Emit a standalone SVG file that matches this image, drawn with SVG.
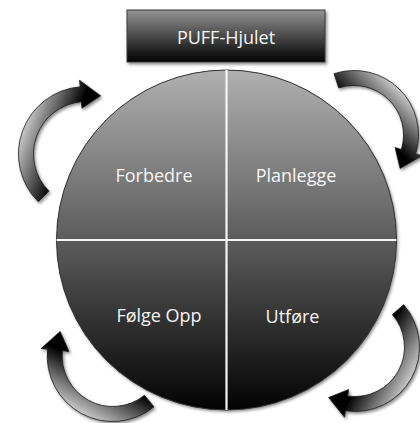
<svg xmlns="http://www.w3.org/2000/svg" width="420" height="423" viewBox="0 0 420 423">
  <style>
    .label { font-family: "Open Sans", "Liberation Sans", sans-serif; font-size: 18px; fill: #f6f6f6; text-anchor: middle; }
    .arrow { stroke: #1a1a1a; stroke-width: 0.8; stroke-linejoin: miter; filter: url(#shadow); }
    .divider { stroke: #f6f6f6; stroke-width: 2.2; fill: none; }
  </style>
  <defs>
    <filter id="shadow" x="-25%" y="-25%" width="160%" height="160%">
      <feDropShadow dx="1.5" dy="2" stdDeviation="1.6" flood-color="#000" flood-opacity="0.45"/>
    </filter>
    <linearGradient id="wheelFill" gradientUnits="userSpaceOnUse" x1="0" y1="70" x2="0" y2="410">
      <stop offset="0" stop-color="#b0b0b0"/>
      <stop offset="0.5" stop-color="#5c5c5c"/>
      <stop offset="1" stop-color="#030303"/>
    </linearGradient>
    <linearGradient id="titleFill" x1="0" y1="0" x2="0" y2="1">
      <stop offset="0" stop-color="#939393"/>
      <stop offset="1" stop-color="#000"/>
    </linearGradient>
    <linearGradient id="arrowLeft" gradientUnits="userSpaceOnUse" x1="66.3" y1="146.8" x2="23" y2="131.1">
      <stop offset="0" stop-color="#000"/>
      <stop offset="0.1" stop-color="#141414"/>
      <stop offset="1" stop-color="#c6c6c6"/>
    </linearGradient>
    <linearGradient id="arrowTopRight" gradientUnits="userSpaceOnUse" x1="367.98" y1="120.77" x2="398.75" y2="89.47">
      <stop offset="0" stop-color="#000"/>
      <stop offset="0.1" stop-color="#141414"/>
      <stop offset="1" stop-color="#c6c6c6"/>
    </linearGradient>
    <linearGradient id="arrowBottomRight" gradientUnits="userSpaceOnUse" x1="372.49" y1="356.6" x2="410.97" y2="377.71">
      <stop offset="0" stop-color="#000"/>
      <stop offset="0.1" stop-color="#141414"/>
      <stop offset="1" stop-color="#c6c6c6"/>
    </linearGradient>
    <linearGradient id="arrowBottomLeft" gradientUnits="userSpaceOnUse" x1="103.01" y1="373.84" x2="81.69" y2="413.12">
      <stop offset="0" stop-color="#000"/>
      <stop offset="0.1" stop-color="#141414"/>
      <stop offset="1" stop-color="#c6c6c6"/>
    </linearGradient>
  </defs>

  <rect width="420" height="423" fill="#ffffff"/>

  <!-- title banner -->
  <g id="title">
    <rect x="127" y="10" width="198" height="52" fill="url(#titleFill)" stroke="#3a3a3a" stroke-width="1" filter="url(#shadow)"/>
    <text class="label" x="226" y="44">PUFF-Hjulet</text>
  </g>

  <!-- the wheel: four quadrants -->
  <g id="wheel">
    <circle cx="226.5" cy="240" r="170" fill="#000" filter="url(#shadow)"/>
    <g id="forbedre">
      <path d="M226.5,240 L56.5,240 A170,170 0 0 1 226.5,70 Z" fill="url(#wheelFill)"/>
      <text class="label" x="154" y="182">Forbedre</text>
    </g>
    <g id="planlegge">
      <path d="M226.5,240 L226.5,70 A170,170 0 0 1 396.5,240 Z" fill="url(#wheelFill)"/>
      <text class="label" x="296" y="182">Planlegge</text>
    </g>
    <g id="utfore">
      <path d="M226.5,240 L396.5,240 A170,170 0 0 1 226.5,410 Z" fill="url(#wheelFill)"/>
      <text class="label" x="292.5" y="323">Utføre</text>
    </g>
    <g id="folge-opp">
      <path d="M226.5,240 L226.5,410 A170,170 0 0 1 56.5,240 Z" fill="url(#wheelFill)"/>
      <text class="label" x="159" y="322">Følge Opp</text>
    </g>
    <circle cx="226.5" cy="240" r="170" fill="none" stroke="#383838" stroke-width="1"/>
    <line class="divider" x1="226.5" y1="70" x2="226.5" y2="410"/>
    <line class="divider" x1="56.5" y1="240" x2="396.5" y2="240"/>
  </g>

  <!-- curved arrows running clockwise round the wheel -->
  <g id="connectors">
    <path class="arrow" fill="url(#arrowLeft)" d="M38.27,201.73 A67.5,67.5 0 0 1 80.12,86.76 L79.55,80.28 L100.52,95.78 L81.99,108.18 L81.42,101.7 A52.5,52.5 0 0 0 48.88,191.12 Z"/>
    <path class="arrow" fill="url(#arrowTopRight)" d="M334.07,73.66 A64.5,64.5 0 0 1 415.68,153.86 L421.9,155.76 L400.11,168.5 L395.12,147.57 L401.34,149.47 A49.5,49.5 0 0 0 338.7,87.92 Z"/>
    <path class="arrow" fill="url(#arrowBottomRight)" d="M403.68,304.68 A64.5,64.5 0 0 1 345.47,410.79 L344.51,417.22 L328.68,397.56 L348.64,389.53 L347.68,395.96 A49.5,49.5 0 0 0 392.36,314.52 Z"/>
    <path class="arrow" fill="url(#arrowBottomLeft)" d="M153.92,406.9 A65.5,65.5 0 0 1 47.56,349.15 L41.09,348.47 L60.13,331.49 L68.94,351.4 L62.48,350.72 A50.5,50.5 0 0 0 144.48,395.25 Z"/>
  </g>
</svg>
